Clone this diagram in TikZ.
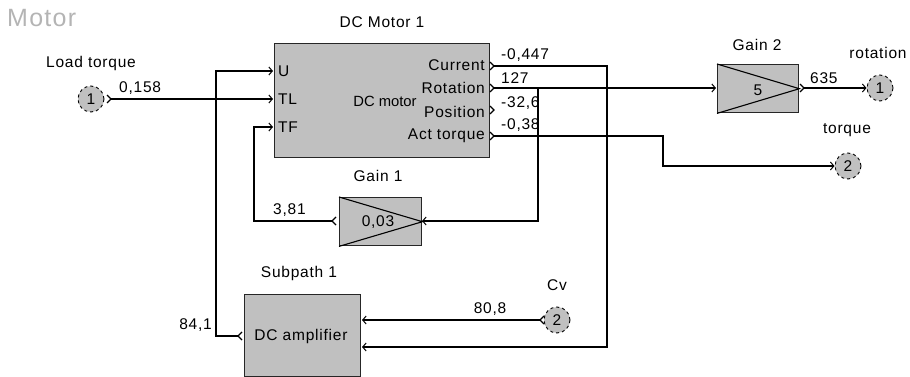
\documentclass[tikz,border=0pt]{standalone}
\usepackage{fontspec}
\setmainfont[LetterSpace=5]{Liberation Sans}
\newfontfamily\plainsans{Liberation Sans}
\usetikzlibrary{arrows.meta}
\definecolor{blk}{HTML}{C0C0C0}
\definecolor{ttl}{HTML}{B4B4B4}
\begin{document}
\begin{tikzpicture}[x=1pt,y=-1pt,
  font=\fontsize{15.5}{17}\selectfont,
  block/.style={draw=black!85, line width=1.4pt, fill=blk, inner sep=0pt},
  wire/.style={line width=1.1pt},
  inarr/.style={-{Straight Barb[length=3.5pt,width=8pt,line width=1pt]}},
  port/.style={draw, dashed, circle, fill=blk, minimum size=26pt, inner sep=0pt, line width=0.9pt},
  lbl/.style={inner sep=0pt},
  chev/.style={line width=1.1pt}]
\useasboundingbox (0,0) rectangle (910,377);

% title
\node[lbl, anchor=west, text=ttl, font=\fontsize{25}{27}\selectfont] (title) at (7,18) {Motor};

% DC motor block
\node[block, anchor=north west, minimum width=215pt, minimum height=114pt] (motor) at (274,43) {};
\node[lbl] (motorname) at (382,22) {DC Motor 1};
\node[lbl, font=\plainsans\fontsize{14.8}{16}\selectfont] (motortype) at (385,101) {DC motor};
\node[lbl, anchor=west] (pU) at (278,71) {U};
\node[lbl, anchor=west] (pTL) at (278,99) {TL};
\node[lbl, anchor=west] (pTF) at (278,127) {TF};
\node[lbl, anchor=east] (pCur) at (485,65) {Current};
\node[lbl, anchor=east] (pRot) at (485,88) {Rotation};
\node[lbl, anchor=east] (pPos) at (485,112) {Position};
\node[lbl, anchor=east] (pAct) at (485,136) {Act torque};
\coordinate (mU) at (273,71);
\coordinate (mTL) at (273,99);
\coordinate (mTF) at (273,127);
\coordinate (oCur) at (494,66);
\coordinate (oRot) at (494,88);
\coordinate (oPos) at (494,110);
\coordinate (oAct) at (494,136);
\foreach \c in {oCur,oRot,oPos,oAct}
  \draw[chev] (\c) ++(-4,-4) -- ++(4,4) -- ++(-4,4);

% Gain 2
\node[block, anchor=north west, minimum width=81pt, minimum height=48pt] (gain2) at (717,64) {};
\draw[wire] (gain2.north west) -- (gain2.east) -- (gain2.south west);
\node[lbl] (g2val) at (758,90) {5};
\node[lbl] (g2name) at (757,45) {Gain 2};
\coordinate (g2in) at (716,88);
\coordinate (g2out) at (804,88);
\draw[chev] (g2out) ++(-4,-4) -- ++(4,4) -- ++(-4,4);

% Gain 1
\node[block, anchor=north west, minimum width=82pt, minimum height=48pt] (gain1) at (339,197) {};
\draw[wire] (gain1.north west) -- (gain1.east) -- (gain1.south west);
\node[lbl] (g1val) at (378,222) {0,03};
\node[lbl] (g1name) at (378,176) {Gain 1};
\coordinate (g1in) at (422,221);
\coordinate (g1out) at (332,221);
\draw[chev] (g1out) ++(4,-4) -- ++(-4,4) -- ++(4,4);

% DC amplifier
\node[block, anchor=north west, minimum width=116pt, minimum height=82pt] (amp) at (244,294) {};
\node[lbl] (ampname) at (301,336) {DC amplifier};
\node[lbl] (ampttl) at (299,273) {Subpath 1};
\coordinate (ampin1) at (362,320);
\coordinate (ampin2) at (362,347);
\coordinate (ampout) at (238,336);
\draw[chev] (ampout) ++(4,-4) -- ++(-4,4) -- ++(4,4);

% ports
\node[port] (load) at (91,99) {1};
\node[lbl] (loadname) at (91,63) {Load torque};
\coordinate (loadout) at (111,99);
\draw[chev] (loadout) ++(-4,-4) -- ++(4,4) -- ++(-4,4);

\node[port] (rotp) at (880,88) {1};
\node[lbl] (rotname) at (878,53) {rotation};
\node[port] (torp) at (848,166) {2};
\node[lbl] (torname) at (847,130) {torque};
\node[port] (cv) at (557,320) {2};
\node[lbl] (cvname) at (557,285) {Cv};
\coordinate (cvout) at (540,320);
\draw[chev] (cvout) ++(4,-4) -- ++(-4,4) -- ++(4,4);

% connectors
\draw[wire,inarr] (loadout) -- (mTL);
\node[lbl, anchor=south west] (v1) at (119,95) {0,158};

\draw[wire,inarr] (oCur) -| (607,347) -- (ampin2);
\node[lbl, anchor=south west] (v2) at (501,62) {-0,447};

\coordinate (br) at (538,88);
\draw[wire,inarr] (oRot) -- (g2in);
\draw[wire,inarr] (br) |- (g1in);
\node[lbl, anchor=south west] (v3) at (501,84) {127};
\node[lbl, anchor=south west] (v4) at (501,110) {-32,6};

\draw[wire,inarr] (oAct) -| (663,166) -- (torp.west);
\node[lbl, anchor=south west] (v5) at (501,132) {-0,38};

\draw[wire,inarr] (g2out) -- (rotp.west);
\node[lbl, anchor=south west] (v6) at (810,84) {635};

\draw[wire,inarr] (g1out) -| (254,127) -- (mTF);
\node[lbl, anchor=south west] (v7) at (273,217) {3,81};

\draw[wire,inarr] (ampout) -| (216,71) -- (mU);
\node[lbl, anchor=south east] (v8) at (212,332) {84,1};

\draw[wire,inarr] (cvout) -- (ampin1);
\node[lbl, anchor=south] (v9) at (490,316) {80,8};
\end{tikzpicture}
\end{document}
